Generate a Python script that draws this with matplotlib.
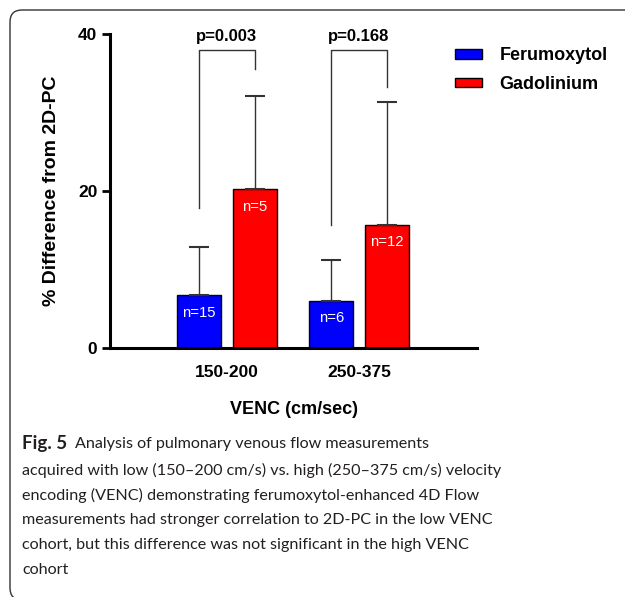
import numpy as np
import matplotlib
matplotlib.use("Agg")
import matplotlib.pyplot as plt
from matplotlib.patches import FancyBboxPatch, Patch
from matplotlib.transforms import IdentityTransform

plt.rcParams['font.family'] = ['Liberation Sans', 'DejaVu Sans']

groups = ["150-200", "250-375"]
series = ["Ferumoxytol", "Gadolinium"]
colors = ["#0000ff", "#ff0000"]
ferumoxytol_mean = [6.7, 6.0]
ferumoxytol_sd = [6.2, 5.2]
gadolinium_mean = [20.2, 15.7]
gadolinium_sd = [11.9, 15.7]
ferumoxytol_n = ["n=15", "n=6"]
gadolinium_n = ["n=5", "n=12"]
p_values = ["p=0.003", "p=0.168"]
bracket_top = 37.9
bracket_left_start = [17.8, 15.7]
bracket_right_start = [35.6, 33.3]

caption_lines = [
    "Analysis of pulmonary venous flow measurements",
    "acquired with low (150\u2013200 cm/s) vs. high (250\u2013375 cm/s) velocity",
    "encoding (VENC) demonstrating ferumoxytol-enhanced 4D Flow",
    "measurements had stronger correlation to 2D-PC in the low VENC",
    "cohort, but this difference was not significant in the high VENC",
    "cohort",
]
cap_font = "Lato"

W, H = 625, 597
fig = plt.figure(figsize=(W / 100, H / 100), dpi=100)
ax = fig.add_axes([110 / W, 1 - 348 / H, 367 / W, 314 / H])

x = np.arange(len(groups))
w = 0.333
off = 0.21
xf = x - off
xg = x + off

err_kw = dict(ecolor="#333333", elinewidth=1.0, capthick=1.5)
ax.bar(xf, ferumoxytol_mean, w, color=colors[0], edgecolor="black", linewidth=1.0,
       yerr=[np.zeros(2), ferumoxytol_sd], capsize=7.5, error_kw=err_kw, zorder=2)
ax.bar(xg, gadolinium_mean, w, color=colors[1], edgecolor="black", linewidth=1.0,
       yerr=[np.zeros(2), gadolinium_sd], capsize=7.5, error_kw=err_kw, zorder=2)

for i in range(len(groups)):
    ax.text(xf[i], ferumoxytol_mean[i] - 2.2, ferumoxytol_n[i], color="white",
            ha="center", va="center", fontsize=10.7, zorder=3)
    ax.text(xg[i], gadolinium_mean[i] - 2.2, gadolinium_n[i], color="white",
            ha="center", va="center", fontsize=10.7, zorder=3)
    # significance bracket
    ax.plot([xf[i], xf[i], xg[i], xg[i]],
            [bracket_left_start[i], bracket_top, bracket_top, bracket_right_start[i]],
            color="#333333", lw=1.0, clip_on=False, zorder=1)
    ax.text(x[i], bracket_top + 0.8, p_values[i], ha="center", va="bottom",
            fontsize=12, fontweight="bold")

ax.set_xlim(-0.883, 1.892)
ax.set_ylim(0, 40)
ax.set_yticks([0, 20, 40])
ax.set_xticks(x)
ax.set_xticklabels(groups)
for s in ["top", "right"]:
    ax.spines[s].set_visible(False)
for s in ["left", "bottom"]:
    ax.spines[s].set_linewidth(2.2)
ax.tick_params(axis="y", length=6, width=2, pad=3, labelsize=12.5)
ax.tick_params(axis="x", length=0, pad=12, labelsize=12.5)
for lab in ax.get_xticklabels() + ax.get_yticklabels():
    lab.set_fontweight("bold")
ax.set_ylabel("% Difference from 2D-PC", fontsize=14, fontweight="bold", labelpad=13)
ax.set_xlabel("VENC (cm/sec)", fontsize=13, fontweight="bold", labelpad=15)

handles = [Patch(facecolor=c, edgecolor="black", lw=1.0) for c in colors]
fig.legend(handles, series, loc="upper left", bbox_to_anchor=(439 / W, 1 - 31 / H),
           frameon=False, handlelength=1.5, handleheight=0.45, handletextpad=0.95,
           labelspacing=0.65, prop=dict(weight="bold", size=13))

# caption
fig.text(22 / W, 1 - 444 / H, "Fig. 5", fontsize=13.5, fontweight="bold",
         color="#231f20", va="center", family=cap_font)
ys = [444, 470, 495, 520, 545, 570]
for j, line in enumerate(caption_lines):
    x0 = 75 if j == 0 else 22
    fig.text(x0 / W, 1 - ys[j] / H, line, fontsize=11.6, color="#231f20",
             va="center", family=cap_font)

frame = FancyBboxPatch((10, -3), 700, 590, boxstyle="round,pad=0,rounding_size=12",
                       transform=IdentityTransform(), fill=False,
                       edgecolor="#333333", lw=1.0)
fig.add_artist(frame)

fig.savefig("out.png", dpi=100)
